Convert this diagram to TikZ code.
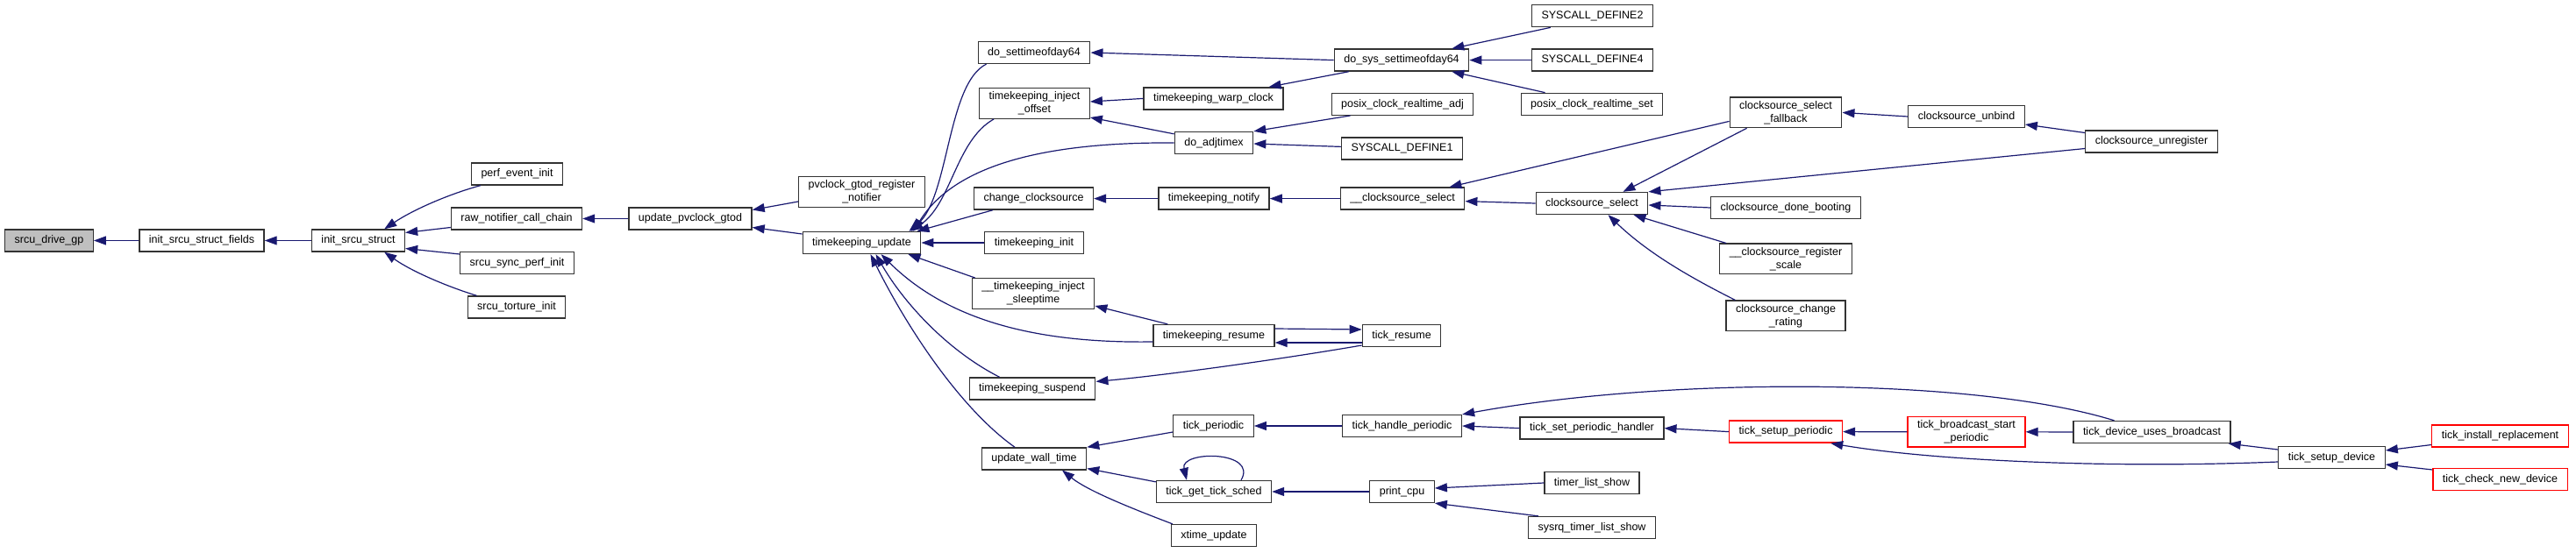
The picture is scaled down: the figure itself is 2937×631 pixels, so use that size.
\documentclass[tikz,border=0pt]{standalone}
\usepackage{fontspec}
\setmainfont{Liberation Sans}
\usepackage{tikz}
\usetikzlibrary{arrows.meta}
\definecolor{edgeblue}{HTML}{191970}
\definecolor{boxgray}{HTML}{BFBFBF}

\begin{document}
\begin{tikzpicture}[
    x=1pt, y=-1pt,
    font=\fontsize{12.5}{15}\selectfont,
    fn/.style={draw=black!80, line width=1.3pt, fill=white, minimum height=25pt, inner xsep=11pt, inner ysep=4pt, align=center},
    fnred/.style={fn, draw=red},
    fnmain/.style={fn, fill=boxgray},
    call/.style={-{Triangle[length=14pt,width=10pt]}, draw=edgeblue, line width=1.2pt}
]
\useasboundingbox (0,0) rectangle (2937,631);

\node[fnmain] (sdg) at (56,274.5) {srcu\_drive\_gp};
\node[fn] (isf) at (230,274.5) {init\_srcu\_struct\_fields};
\node[fn] (iss) at (408.5,274.5) {init\_srcu\_struct};
\node[fn] (pei) at (589.5,198.5) {perf\_event\_init};
\node[fn] (rnc) at (589,249.5) {raw\_notifier\_call\_chain};
\node[fn] (ssp) at (589.5,300) {srcu\_sync\_perf\_init};
\node[fn] (sti) at (589,350.5) {srcu\_torture\_init};
\node[fn] (upg) at (787,249.5) {update\_pvclock\_gtod};
\node[fn] (pgr) at (982.5,219) {pvclock\_gtod\_register\\\_notifier};
\node[fn] (tku) at (982.5,277) {timekeeping\_update};

\node[fn] (dst) at (1179,60) {do\_settimeofday64};
\node[fn] (tio) at (1179.5,118) {timekeeping\_inject\\\_offset};
\node[fn] (ccs) at (1178.5,226.6) {change\_clocksource};
\node[fn] (tki) at (1179,277) {timekeeping\_init};
\node[fn] (tis) at (1178,335) {\_\_timekeeping\_inject\\\_sleeptime};
\node[fn] (tks) at (1177,443.4) {timekeeping\_suspend};
\node[fn] (uwt) at (1179,523.4) {update\_wall\_time};

\node[fn] (twc) at (1383.5,112.4) {timekeeping\_warp\_clock};
\node[fn] (dat) at (1384,163) {do\_adjtimex};
\node[fn] (tkn) at (1384,226.6) {timekeeping\_notify};
\node[fn] (tkr) at (1384,383) {timekeeping\_resume};
\node[fn] (tpd) at (1383.5,486) {tick\_periodic};
\node[fn] (tgt) at (1384,561) {tick\_get\_tick\_sched};
\node[fn] (xtu) at (1384,611) {xtime\_update};

\node[fn] (dss) at (1598,68.6) {do\_sys\_settimeofday64};
\node[fn] (pra) at (1599,118.8) {posix\_clock\_realtime\_adj};
\node[fn] (sd1) at (1598.5,169.4) {SYSCALL\_DEFINE1};
\node[fn] (ucs) at (1599,226.6) {\_\_clocksource\_select};
\node[fn] (trs) at (1598,383) {tick\_resume};
\node[fn] (thp) at (1598.5,486) {tick\_handle\_periodic};
\node[fn] (pcu) at (1598.5,561) {print\_cpu};

\node[fn] (sd2) at (1815.5,18.2) {SYSCALL\_DEFINE2};
\node[fn] (sd4) at (1815.5,68.6) {SYSCALL\_DEFINE4};
\node[fn] (prs) at (1815,118.8) {posix\_clock\_realtime\_set};
\node[fn] (csl) at (1815,232) {clocksource\_select};
\node[fn] (tsh) at (1815,488.6) {tick\_set\_periodic\_handler};
\node[fn] (tls) at (1815,551) {timer\_list\_show};
\node[fn] (stl) at (1815,602) {sysrq\_timer\_list\_show};

\node[fn] (csf) at (2036,128.4) {clocksource\_select\\\_fallback};
\node[fn] (cdb) at (2036,237) {clocksource\_done\_booting};
\node[fn] (crs) at (2036,295.4) {\_\_clocksource\_register\\\_scale};
\node[fn] (ccr) at (2036,360.4) {clocksource\_change\\\_rating};
\node[fnred] (tsp) at (2036,492.6) {tick\_setup\_periodic};

\node[fn] (cub) at (2242,133) {clocksource\_unbind};
\node[fnred] (tbs) at (2242,492.8) {tick\_broadcast\_start\\\_periodic};
\node[fn] (cur) at (2453,161.5) {clocksource\_unregister};
\node[fn] (tdb) at (2453.5,493) {tick\_device\_uses\_broadcast};
\node[fn] (tsd) at (2658.5,522) {tick\_setup\_device};
\node[fnred] (tir) at (2850.5,497.5) {tick\_install\_replacement};
\node[fnred] (tcn) at (2850.5,547) {tick\_check\_new\_device};

% srcu side
\draw[call] (isf.west) -- (sdg.east);
\draw[call] (iss.west) -- (isf.east);
\draw[call] ([xshift=11pt]pei.south west) .. controls (510,222) and (470,240) .. ([xshift=-24pt]iss.north east);
\draw[call] ([yshift=-10pt]rnc.west) -- ([yshift=9pt]iss.east);
\draw[call] ([yshift=10pt]ssp.west) -- ([yshift=-9pt]iss.east);
\draw[call] ([xshift=11pt]sti.north west) .. controls (510,327) and (470,310) .. ([xshift=-24pt]iss.south east);
\draw[call] (upg.west) -- (rnc.east);
\draw[call] ([yshift=-11pt]pgr.west) -- ([yshift=10pt]upg.east);
\draw[call] ([yshift=10pt]tku.west) -- ([yshift=-10pt]upg.east);

% timekeeping
\draw[call] ([xshift=10pt]dst.south west) .. controls (1080,95) and (1082,225) .. ([xshift=-14pt]tku.north east);
\draw[call] ([xshift=17pt]tio.south west) .. controls (1090,160) and (1085,232) .. ([xshift=-12pt]tku.north east);
\draw[call] (dat.west) .. controls (1200,162) and (1090,185) .. ([xshift=-9pt]tku.north east);
\draw[call] ([xshift=22pt]ccs.south west) -- ([xshift=-5pt]tku.north east);
\draw[call] (tki.west) -- (tku.east);
\draw[call] ([xshift=4pt]tis.north west) -- ([xshift=-15pt]tku.south east);
\draw[call] ([yshift=-7pt]tkr.west) .. controls (1180,392) and (1080,365) .. ([xshift=22pt]tku.south);
\draw[call] ([xshift=35pt]tks.north west) .. controls (1080,400) and (1030,345) .. ([xshift=16pt]tku.south);
\draw[call] ([xshift=-22pt]uwt.north) .. controls (1100,470) and (1040,385) .. ([xshift=10pt]tku.south);

\draw[call] (dss.west) -- (dst.east);
\draw[call] (twc.west) -- ([yshift=2pt]tio.east);
\draw[call] ([yshift=-3pt]dat.north west) -- ([yshift=-16pt]tio.east);
\draw[call] ([xshift=17pt]dss.south west) -- ([xshift=-17pt]twc.north east);
\draw[call] ([xshift=22pt]pra.south west) -- (dat.north east);
\draw[call] ([yshift=2pt]sd1.west) -- ([yshift=-1pt]dat.east);
\draw[call] (tkn.west) -- (ccs.east);
\draw[call] (ucs.west) -- (tkn.east);
\draw[call] ([xshift=17pt]tkr.north west) -- ([yshift=4pt]tis.south east);
\draw[call] ([yshift=-8pt]trs.west) -- ([yshift=-8pt]tkr.east);
\draw[call] ([yshift=8pt]tkr.east) -- ([yshift=7pt]trs.west);
\draw[call] ([yshift=-11pt]trs.west) .. controls (1460,410) and (1330,428) .. ([yshift=8pt]tks.east);

% ticks
\draw[call] ([yshift=-7pt]tpd.west) -- (uwt.north east);
\draw[call] ([yshift=-2pt]tgt.north west) -- ([yshift=2pt]uwt.south east);
\draw[call] ([xshift=2pt]xtu.north west) .. controls (1290,580) and (1240,560) .. ([xshift=32pt]uwt.south);
\draw[call] (thp.west) -- (tpd.east);
\draw[call] ([xshift=31pt]tgt.north) .. controls +(20,-34) and +(-8,-34) .. ([xshift=-31pt]tgt.north);
\draw[call] (pcu.west) -- (tgt.east);

\draw[call] ([xshift=22pt]sd2.south west) -- ([xshift=-20pt]dss.north east);
\draw[call] (sd4.west) -- (dss.east);
\draw[call] ([xshift=28pt]prs.north west) -- ([xshift=-20pt]dss.south east);
\draw[call] ([yshift=-10pt]csf.west) -- ([xshift=-18pt]ucs.north east);
\draw[call] (csl.west) -- ([yshift=-3pt]ucs.east);
\draw[call] (tsh.west) -- (thp.east);
\draw[call] ([xshift=-43pt]tdb.north) .. controls (2250,430) and (1900,430) .. (thp.north east);
\draw[call] (tls.west) -- ([yshift=4pt]pcu.east);
\draw[call] ([xshift=12pt]stl.north west) -- (pcu.south east);

% clocksource
\draw[call] ([xshift=20pt]csf.south west) -- ([xshift=-29pt]csl.north east);
\draw[call] ([yshift=-8pt]cur.west) -- (csl.north east);
\draw[call] (cdb.west) -- ([yshift=-2pt]csl.east);
\draw[call] ([xshift=8pt]crs.north west) -- ([xshift=-17pt]csl.south east);
\draw[call] ([xshift=11pt]ccr.north west) .. controls (1930,318) and (1880,290) .. ([xshift=-46pt]csl.south east);
\draw[call] (cub.west) -- (csf.east);
\draw[call] ([yshift=10pt]cur.west) -- ([yshift=-9pt]cub.east);

% tick setup
\draw[call] (tsp.west) -- (tsh.east);
\draw[call] (tbs.west) -- (tsp.east);
\draw[call] ([yshift=-5pt]tsd.west) .. controls (2400,535) and (2200,525) .. ([xshift=-14pt]tsp.south east);
\draw[call] (tdb.west) -- (tbs.east);
\draw[call] ([yshift=9pt]tsd.west) -- ([xshift=-3pt]tdb.south east);
\draw[call] ([yshift=-10pt]tir.west) -- ([yshift=8pt]tsd.east);
\draw[call] ([yshift=11pt]tcn.west) -- ([yshift=-8pt]tsd.east);
\end{tikzpicture}
\end{document}
